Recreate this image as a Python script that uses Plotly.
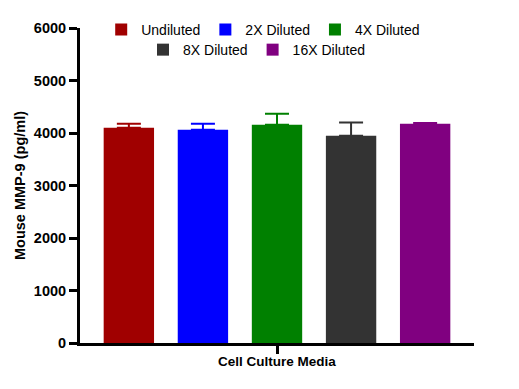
import plotly.graph_objects as go

category = ["Cell Culture Media"]
series_names = ["Undiluted", "2X Diluted", "4X Diluted", "8X Diluted", "16X Diluted"]
means = [4100, 4062, 4157, 3949, 4177]
errors = [76, 115, 210, 253, 13]
colors = ["#A00000", "#0000FF", "#008000", "#333333", "#800080"]
legend_ids = ["legend", "legend", "legend", "legend2", "legend2"]
y_ticks = [0, 1000, 2000, 3000, 4000, 5000, 6000]

fig = go.Figure()
for name, m, e, c, lg in zip(series_names, means, errors, colors, legend_ids):
    fig.add_trace(go.Bar(
        x=category, y=[m], name=name, marker=dict(color=c, line=dict(width=0)),
        error_y=dict(type="data", symmetric=False, array=[e], arrayminus=[0],
                     color=c, thickness=2, width=12),
        legend=lg,
    ))

font_family = "Liberation Sans, Arial, sans-serif"
# page body has an 8px default margin, so the figure is drawn 8px in from the top-left
fig.update_layout(
    width=511, height=381,
    margin=dict(l=72, r=45, t=20, b=46, autoexpand=False),
    paper_bgcolor="white", plot_bgcolor="white",
    barmode="group", bargap=0.06, bargroupgap=0.32,
    font=dict(family=font_family, color="black"),
    legend=dict(orientation="h", x=0.465, xanchor="center", y=0.994, yanchor="middle",
                font=dict(size=14), bgcolor="rgba(0,0,0,0)", tracegroupgap=0),
    legend2=dict(orientation="h", x=0.448, xanchor="center", y=0.930, yanchor="middle",
                 font=dict(size=14), bgcolor="rgba(0,0,0,0)"),
    xaxis=dict(
        showline=True, linecolor="black", linewidth=3,
        ticks="outside", ticklen=8, tickwidth=3, tickcolor="black",
        tickfont=dict(size=13.5, family=font_family, weight="bold"),
        ticklabelstandoff=-4,
        showgrid=False, zeroline=False, automargin=False,
    ),
    yaxis=dict(
        range=[0, 6000], tickvals=y_ticks,
        showline=True, linecolor="black", linewidth=3,
        ticks="outside", ticklen=8, tickwidth=3, tickcolor="black",
        tickfont=dict(size=14.5, family=font_family, weight="bold"),
        showgrid=False, zeroline=False, automargin=False,
        title=dict(text="Mouse MMP-9 (pg/ml)", font=dict(size=14.5, weight="bold"), standoff=5),
    ),
)

fig.write_html("out.html")
